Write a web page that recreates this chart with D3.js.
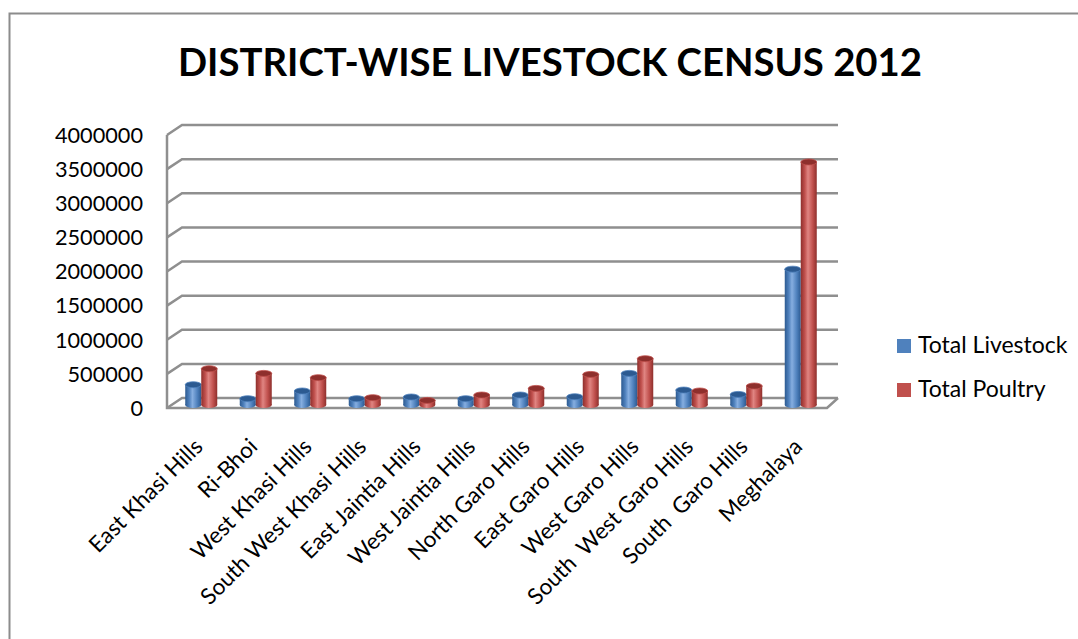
<!DOCTYPE html>
<html>
<head>
<meta charset="utf-8">
<script src="https://cdn.jsdelivr.net/npm/d3@7"></script>
<style>
  body { margin: 0; background: #fff; }
  text { font-family: Lato, "Open Sans", sans-serif; fill: #000; }
</style>
</head>
<body>
<div id="chart"></div>
<script>
const districts = ['East Khasi Hills', 'Ri-Bhoi', 'West Khasi Hills', 'South West Khasi Hills',
  'East Jaintia Hills', 'West Jaintia Hills', 'North Garo Hills', 'East Garo Hills',
  'West Garo Hills', 'South  West Garo Hills', 'South  Garo Hills', 'Meghalaya']
const livestock = [297000, 92000, 205000, 92000, 117000, 92000, 146000, 121000, 463000, 219000, 155000, 1990000]
const poultry = [531000, 463000, 400000, 107000, 67000, 146000, 243000, 448000, 678000, 205000, 278000, 3560000]
const seriesNames = ['Total Livestock', 'Total Poultry']
const yTicks = [0, 500000, 1000000, 1500000, 2000000, 2500000, 3000000, 3500000, 4000000]

const width = 1078, height = 639
const colors = ['#4F81BD', '#C0504D']
const dark = ['#2c5a91', '#8e2f2c']
const light = ['#86aee0', '#e08582']

const svg = d3.select('#chart').append('svg')
  .attr('width', width).attr('height', height)

// outer frame (only top and left visible)
svg.append('path').attr('d', 'M9.5,639 V13.5 H1078')
  .attr('fill', 'none').attr('stroke', '#8c8c8c').attr('stroke-width', 2)

svg.append('text').attr('x', 550).attr('y', 76)
  .attr('text-anchor', 'middle')
  .attr('font-size', 38).attr('font-weight', 'bold')
  .attr('textLength', 744).attr('lengthAdjust', 'spacingAndGlyphs')
  .text('DISTRICT-WISE LIVESTOCK CENSUS 2012')

// 3D geometry: front and back wall scales
const frontY = d3.scaleLinear().domain([0, 4000000]).range([408, 135])
const backY = d3.scaleLinear().domain([0, 4000000]).range([398, 125])
const barY = d3.scaleLinear().domain([0, 4000000]).range([405, 132])
const x = d3.scaleBand().domain(districts).range([174, 828])
const inner = d3.scaleBand().domain(seriesNames).range([-16, 16])

const grid = svg.append('g').attr('stroke', '#8f8f8f').attr('stroke-width', 2.5).attr('fill', 'none')
grid.selectAll('path.g').data(yTicks).join('path').attr('class', 'g')
  .attr('d', d => `M167,${frontY(d)} L182,${backY(d)} H838`)
grid.append('path').attr('d', `M167,${frontY(4000000)} V${frontY(0)} H827 L838,${backY(0)}`)

// y labels
svg.append('g').selectAll('text').data(yTicks).join('text')
  .attr('x', 143).attr('y', d => frontY(d))
  .attr('dy', '0.36em').attr('text-anchor', 'end').attr('font-size', 21.7)
  .text(d => d)

// gradients for cylinder shading
const defs = svg.append('defs')
colors.forEach((c, i) => {
  const g = defs.append('linearGradient').attr('id', 'grad' + i)
    .attr('x1', 0).attr('x2', 1).attr('y1', 0).attr('y2', 0)
  g.append('stop').attr('offset', '0%').attr('stop-color', dark[i])
  g.append('stop').attr('offset', '25%').attr('stop-color', c)
  g.append('stop').attr('offset', '45%').attr('stop-color', light[i])
  g.append('stop').attr('offset', '75%').attr('stop-color', c)
  g.append('stop').attr('offset', '100%').attr('stop-color', dark[i])
})

const seriesData = [livestock, poultry]
const bars = svg.append('g')
seriesData.forEach((vals, si) => {
  const bw = inner.bandwidth()
  const grp = bars.append('g')
  const items = districts.map((d, i) => ({ d, v: vals[i] }))
  const bx = e => x(e.d) + x.bandwidth() / 2 + inner(seriesNames[si])
  grp.selectAll('rect').data(items).join('rect')
    .attr('x', bx).attr('width', bw)
    .attr('y', e => barY(e.v)).attr('height', e => barY(0) - barY(e.v))
    .attr('fill', `url(#grad${si})`)
  grp.selectAll('ellipse.bot').data(items).join('ellipse').attr('class', 'bot')
    .attr('cx', e => bx(e) + bw / 2).attr('cy', barY(0)).attr('rx', bw / 2).attr('ry', 3)
    .attr('fill', `url(#grad${si})`)
  grp.selectAll('ellipse.top').data(items).join('ellipse').attr('class', 'top')
    .attr('cx', e => bx(e) + bw / 2).attr('cy', e => barY(e.v)).attr('rx', bw / 2).attr('ry', 3)
    .attr('fill', dark[si]).attr('stroke', colors[si]).attr('stroke-width', 0.8)
})

// category labels
svg.append('g').selectAll('text').data(districts).join('text')
  .attr('transform', d => `translate(${x(d) + x.bandwidth() / 2 + 3},${448}) rotate(-45)`)
  .attr('text-anchor', 'end').attr('font-size', 22.5)
  .attr('xml:space', 'preserve')
  .text(d => d)

// legend
const legend = svg.append('g')
seriesNames.forEach((s, i) => {
  legend.append('rect').attr('x', 897).attr('y', 339 + i * 44).attr('width', 14).attr('height', 14)
    .attr('fill', colors[i])
  legend.append('text').attr('x', 918).attr('y', 353 + i * 44).attr('font-size', 23).text(s)
})
</script>
</body>
</html>
